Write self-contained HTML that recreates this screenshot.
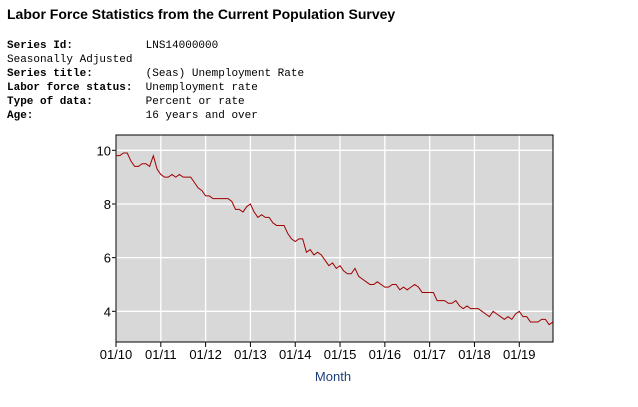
<!DOCTYPE html>
<html><head><meta charset="utf-8"><style>
body{margin:0;width:638px;height:407px;background:#fff;position:relative;overflow:hidden;font-family:"Liberation Sans",sans-serif}
.t{position:absolute;left:7px;top:6px;font-weight:bold;font-size:14px;color:#000}
.m{position:absolute;left:7px;font-family:"Liberation Mono","DejaVu Sans Mono",monospace;font-size:11px;color:#000;white-space:pre}
.m b{font-weight:bold}
</style></head><body>
<div class="t">Labor Force Statistics from the Current Population Survey</div>
<div class="m" style="top:40px"><b>Series Id:</b>           LNS14000000</div>
<div class="m" style="top:54px">Seasonally Adjusted</div>
<div class="m" style="top:68px"><b>Series title:</b>        (Seas) Unemployment Rate</div>
<div class="m" style="top:82px"><b>Labor force status:</b>  Unemployment rate</div>
<div class="m" style="top:96px"><b>Type of data:</b>        Percent or rate</div>
<div class="m" style="top:110px"><b>Age:</b>                 16 years and over</div>
<svg id="c" width="638" height="407" style="position:absolute;left:0;top:0"></svg>
<script>
const years=["01/10","01/11","01/12","01/13","01/14","01/15","01/16","01/17","01/18","01/19"];
const yTicks=[4,6,8,10];
const rates=[9.8,9.8,9.9,9.9,9.6,9.4,9.4,9.5,9.5,9.4,9.8,9.3,
9.1,9.0,9.0,9.1,9.0,9.1,9.0,9.0,9.0,8.8,8.6,8.5,
8.3,8.3,8.2,8.2,8.2,8.2,8.2,8.1,7.8,7.8,7.7,7.9,
8.0,7.7,7.5,7.6,7.5,7.5,7.3,7.2,7.2,7.2,6.9,6.7,
6.6,6.7,6.7,6.2,6.3,6.1,6.2,6.1,5.9,5.7,5.8,5.6,
5.7,5.5,5.4,5.4,5.6,5.3,5.2,5.1,5.0,5.0,5.1,5.0,
4.9,4.9,5.0,5.0,4.8,4.9,4.8,4.9,5.0,4.9,4.7,4.7,
4.7,4.7,4.4,4.4,4.4,4.3,4.3,4.4,4.2,4.1,4.2,4.1,
4.1,4.1,4.0,3.9,3.8,4.0,3.9,3.8,3.7,3.8,3.7,3.9,
4.0,3.8,3.8,3.6,3.6,3.6,3.7,3.7,3.5,3.6];
const NS="http://www.w3.org/2000/svg",svg=document.getElementById('c');
const L=116,R=553,T=135,B=342;
const x=i=>L+i*3.734, y=v=>311.3-(v-4)*26.83;
function mk(t,a,p){const e=document.createElementNS(NS,t);for(const k in a)e.setAttribute(k,a[k]);(p||svg).appendChild(e);return e;}
const bg=mk('rect',{x:L,y:T,width:R-L,height:B-T,fill:'#d8d8d8'});


yTicks.forEach(v=>{
 const g=mk('line',{x1:L,x2:R,y1:y(v),y2:y(v),stroke:'#fff','stroke-width':1.3});
 
 
 mk('line',{x1:L-4,x2:L,y1:y(v),y2:y(v),stroke:'#000'});
 const t=mk('text',{x:L-5,y:y(v)+5,'text-anchor':'end','font-size':13,'font-family':'Liberation Sans, sans-serif'});t.textContent=v;
 
 
});
years.forEach((s,k)=>{
 const xx=x(k*12);
 const g=mk('line',{x1:xx,x2:xx,y1:T,y2:B,stroke:'#fff','stroke-width':1.3});
 
 
 mk('line',{x1:xx,x2:xx,y1:B,y2:B+5,stroke:'#000'});
 const t=mk('text',{x:xx,y:B+17,'text-anchor':'middle','font-size':13,'font-family':'Liberation Sans, sans-serif'});t.textContent=s;
 
 
});
const fr=mk('rect',{x:L,y:T,width:R-L,height:B-T,fill:'none',stroke:'#000'});


const ln=mk('polyline',{points:rates.map((v,i)=>x(i)+','+y(v)).join(' '),fill:'none',stroke:'#a00000','stroke-width':1});


const xt=mk('text',{x:333,y:381,'text-anchor':'middle','font-size':13,fill:'#1f3f7a','font-family':'Liberation Sans, sans-serif'});xt.textContent='Month';


</script>
</body></html>
